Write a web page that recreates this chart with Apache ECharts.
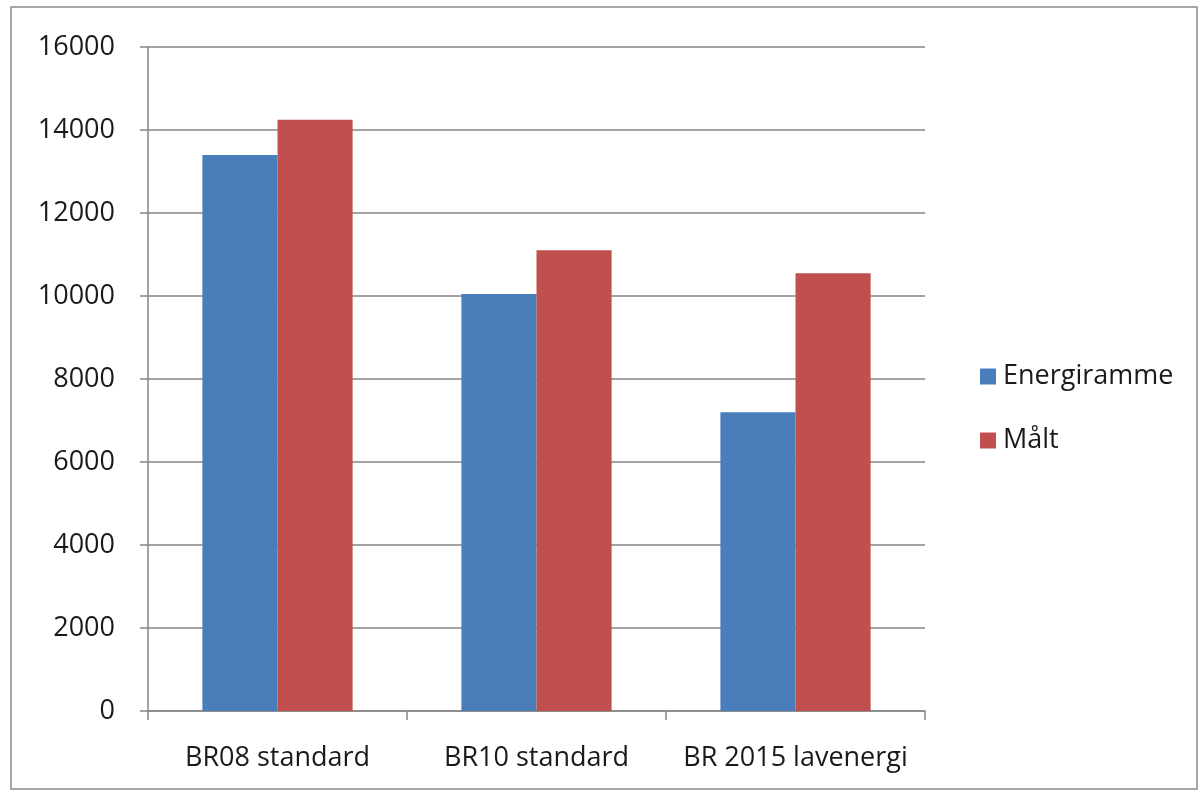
<!DOCTYPE html>
<html><head><meta charset="utf-8">
<script src="https://cdn.jsdelivr.net/npm/echarts@6/dist/echarts.min.js"></script>
<style>html,body{margin:0;padding:0;background:#fff}#c{width:1204px;height:794px}</style>
</head><body><div id="c"></div>
<script>
const categories = ["BR08 standard", "BR10 standard", "BR 2015 lavenergi"];
const energiramme = [13400, 10050, 7200];
const maalt = [14250, 11100, 10550];
const seriesNames = ["Energiramme", "Målt"];

const chart = echarts.init(document.getElementById('c'));
const font = '"Open Sans", Lato, sans-serif';
chart.setOption({
  animation: false,
  backgroundColor: '#fff',
  graphic: [{type:'rect', shape:{x:11,y:7,width:1186,height:782}, style:{fill:'none', stroke:'#8c8c8c', lineWidth:1.5}, silent:true}],
  grid: {left:148, right:279, top:47, bottom:83},
  legend: {
    orient:'vertical', left:975, top:358, itemWidth:16, itemHeight:16, itemGap:37,
    icon:'rect',
    textStyle:{fontFamily:font, fontSize:27, color:'#1a1a1a', padding:[0,0,0,2]},
    data: seriesNames
  },
  xAxis: {
    type:'category', data:categories,
    axisLine:{lineStyle:{color:'#868686', width:1.5}},
    axisTick:{show:true, interval:0, length:9, lineStyle:{color:'#868686', width:1.5}},
    axisLabel:{interval:0, fontFamily:font, fontSize:27, color:'#1a1a1a', margin:34}
  },
  yAxis: {
    type:'value', min:0, max:16000, interval:2000,
    axisLine:{show:true, lineStyle:{color:'#868686', width:1.5}},
    axisTick:{show:true, length:8, lineStyle:{color:'#868686', width:1.5}},
    axisLabel:{fontFamily:font, fontSize:27, color:'#1a1a1a', margin:33, formatter: v => String(v)},
    splitLine:{lineStyle:{color:'#868686', width:1.5}}
  },
  series: [
    {name:seriesNames[0], type:'bar', data:energiramme, barGap:'0%', barCategoryGap:'42%', itemStyle:{color:'#4a7ebb'}},
    {name:seriesNames[1], type:'bar', data:maalt, barGap:'0%', barCategoryGap:'42%', itemStyle:{color:'#c0504d'}}
  ]
});
</script></body></html>
